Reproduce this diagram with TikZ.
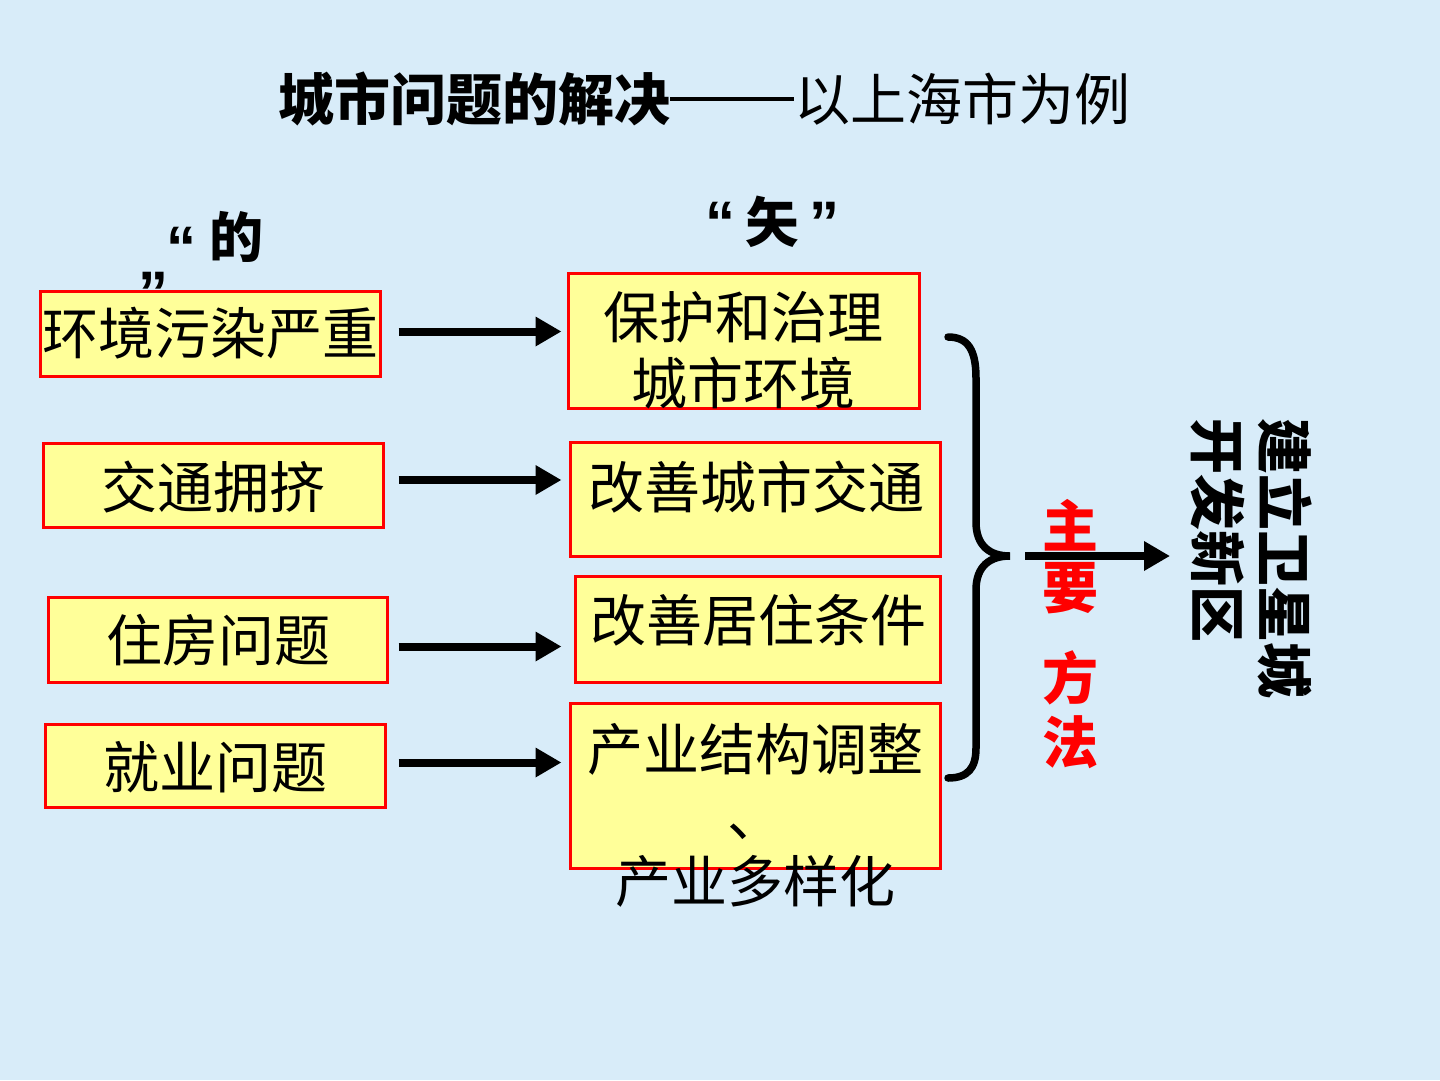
\documentclass[tikz,border=0pt]{standalone}
\usepackage{fontspec}
\setmainfont{Noto Sans CJK SC}
\newfontfamily\latq{Liberation Sans}
\usetikzlibrary{arrows.meta}
\definecolor{bgblue}{RGB}{216,236,249}
\definecolor{boxyellow}{RGB}{255,255,153}
\definecolor{redtxt}{RGB}{255,0,0}
\begin{document}
\begin{tikzpicture}[x=1pt,y=-1pt,
 box/.style={draw=red, line width=3pt, fill=boxyellow, inner sep=0pt},
 txt/.style={font=\fontsize{56}{66}\selectfont, inner sep=0pt, align=center},
 btxt/.style={font=\fontsize{54}{60}\selectfont\bfseries, inner sep=0pt},
 qtxt/.style={font=\fontsize{60}{60}\selectfont\latq\bfseries, inner sep=0pt, anchor=base},
 rtxt/.style={font=\fontsize{56}{60}\selectfont\bfseries, inner sep=0pt, text=redtxt},
 arr/.style={line width=8pt, -{Triangle[length=26pt,width=28pt]}},
]
\fill[bgblue] (0,0) rectangle (1440,1080);
\useasboundingbox (0,0) rectangle (1440,1080);

% title
\node[font=\fontsize{56}{60}\selectfont, inner sep=0pt, anchor=base west] (title) at (278,120)
  {\textbf{城市问题的解决}\rule[19pt]{124pt}{4pt}以上海市为例};

% column heads
\node[qtxt] (q2) at (153,313) {”};
\node[qtxt] (q1) at (181,268) {“};
\node[btxt] (h1) at (236,237) {的};
\node[qtxt] (q3) at (720,243) {“};
\node[btxt] (h2) at (772,222) {矢};
\node[qtxt] (q4) at (824,243) {”};

% left boxes
\node[box, minimum width=340pt, minimum height=85pt] (l1) at (210,333.5) {};
\node[txt] (l1t) at (210,333) {环境污染严重};
\node[box, minimum width=340pt, minimum height=84pt] (l2) at (213,485) {};
\node[txt] (l2t) at (213,487) {交通拥挤};
\node[box, minimum width=339pt, minimum height=85pt] (l3) at (217.5,639.5) {};
\node[txt] (l3t) at (218,640) {住房问题};
\node[box, minimum width=340pt, minimum height=83pt] (l4) at (215,765.5) {};
\node[txt] (l4t) at (215,767) {就业问题};

% right boxes
\node[box, minimum width=351pt, minimum height=135pt] (r1) at (743.5,340.5) {};
\node[txt] (r1t) at (743.5,350) {保护和治理\\城市环境};
\node[box, minimum width=370pt, minimum height=114pt] (r2) at (755,499) {};
\node[txt] (r2t) at (756,487) {改善城市交通};
\node[box, minimum width=365pt, minimum height=106pt] (r3) at (757.5,629) {};
\node[txt] (r3t) at (758,620) {改善居住条件};
\node[box, minimum width=370pt, minimum height=165pt] (r4) at (755,785.5) {};
\node[txt] (r4t) at (755,815) {产业结构调整\\、\\产业多样化};

% arrows
\draw[arr] ([xshift=17pt,yshift=2pt]l1.east) -- ([xshift=-5pt,yshift=2pt]l1.east -| r1.west);
\draw[arr] ([xshift=14pt,yshift=5pt]l2.east) -- ([xshift=-7pt,yshift=5pt]l2.east -| r2.west);
\draw[arr] ([xshift=10pt,yshift=-7pt]l3.east) -- ([xshift=-12pt,yshift=-7pt]l3.east -| r3.west);
\draw[arr] ([xshift=12pt,yshift=3pt]l4.east) -- ([xshift=-7pt,yshift=3pt]l4.east -| r4.west);

% brace
\coordinate (bt) at (948,337);
\coordinate (bm) at (1010,556);
\coordinate (bb) at (948,778);
\draw[line width=7.5pt, line cap=round] (bt) .. controls (968,337) and (976,350) .. (976,378) -- (976,522)
  .. controls (976,546) and (990,556) .. (bm)
  .. controls (990,556) and (976,566) .. (976,590) -- (976,748)
  .. controls (976,768) and (968,778) .. (bb);

% main method labels
\node[rtxt] (m1) at (1070,525) {主};
\node[rtxt] (m2) at (1070,588) {要};
\node[rtxt] (m3) at (1070,678) {方};
\node[rtxt] (m4) at (1070,742) {法};

% result text
\node[font=\fontsize{56}{67}\selectfont\bfseries, inner sep=0pt, rotate=-90, anchor=north west, align=left] (res) at (1312,418) {建立卫星城\\开发新区};

% arrow to result
\coordinate (as) at (1025,556);
\coordinate (ae) at (1170,556);
\draw[arr] (as) -- (ae);
\end{tikzpicture}
\end{document}
